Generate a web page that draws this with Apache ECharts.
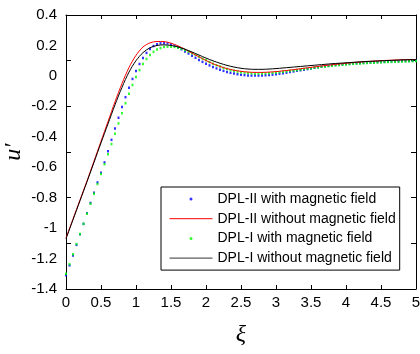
<!DOCTYPE html>
<html>
<head>
<meta charset="utf-8">
<script src="https://cdn.jsdelivr.net/npm/echarts@6/dist/echarts.min.js"></script>
<style>
  html, body { margin: 0; padding: 0; background: #fff; }
  #chart { width: 420px; height: 354px; }
</style>
</head>
<body>
<div id="chart"></div>
<script>
// x positions of the dotted (marker) series, step 0.05
const xiDots = []
for (let i = 0; i <= 100; i++) xiDots.push(+(i * 0.05).toFixed(2))
// x positions of the solid series, step 0.1
const xiLines = []
for (let i = 0; i <= 50; i++) xiLines.push(+(i * 0.1).toFixed(1))

// DPL-II with magnetic field (blue dots)
const dpl2With = [
  -1.31, -1.245, -1.18, -1.11, -1.04, -0.972, -0.903, -0.835, -0.768, -0.70,
  -0.636, -0.568, -0.495, -0.42, -0.345, -0.275, -0.205, -0.14, -0.078, -0.02,
  0.032, 0.078, 0.118, 0.151, 0.177, 0.196, 0.208, 0.214, 0.216, 0.214,
  0.208, 0.199, 0.188, 0.175, 0.161, 0.147, 0.133, 0.119, 0.105, 0.092,
  0.080, 0.069, 0.058, 0.049, 0.040, 0.033, 0.026, 0.020, 0.015, 0.011,
  0.008, 0.005, 0.003, 0.002, 0.002, 0.002, 0.003, 0.004, 0.006, 0.008,
  0.011, 0.014, 0.017, 0.021, 0.025, 0.029, 0.033, 0.037, 0.041, 0.045,
  0.049, 0.053, 0.057, 0.060, 0.063, 0.066, 0.069, 0.072, 0.074, 0.076,
  0.078, 0.080, 0.082, 0.084, 0.085, 0.087, 0.088, 0.089, 0.090, 0.091,
  0.092, 0.093, 0.094, 0.095, 0.096, 0.096, 0.097, 0.098, 0.098, 0.099,
  0.099
]

// DPL-I with magnetic field (green dots)
const dpl1With = [
  -1.30, -1.237, -1.172, -1.105, -1.038, -0.972, -0.905, -0.84, -0.775, -0.71,
  -0.645, -0.58, -0.515, -0.448, -0.38, -0.312, -0.245, -0.18, -0.118, -0.06,
  -0.008, 0.038, 0.078, 0.111, 0.138, 0.158, 0.173, 0.183, 0.189, 0.192,
  0.192, 0.190, 0.185, 0.178, 0.170, 0.160, 0.149, 0.138, 0.126, 0.114,
  0.102, 0.091, 0.080, 0.070, 0.061, 0.052, 0.045, 0.038, 0.033, 0.028,
  0.024, 0.021, 0.019, 0.017, 0.016, 0.016, 0.016, 0.017, 0.018, 0.020,
  0.022, 0.024, 0.027, 0.030, 0.033, 0.036, 0.039, 0.042, 0.045, 0.048,
  0.051, 0.054, 0.057, 0.060, 0.062, 0.065, 0.067, 0.069, 0.071, 0.073,
  0.075, 0.077, 0.079, 0.080, 0.082, 0.083, 0.085, 0.086, 0.087, 0.088,
  0.089, 0.090, 0.091, 0.092, 0.093, 0.094, 0.095, 0.095, 0.096, 0.097,
  0.097
]

// DPL-II without magnetic field (red line)
const dpl2Without = [
  -1.065, -0.94, -0.815, -0.69, -0.56, -0.43, -0.30, -0.17, -0.05, 0.055,
  0.135, 0.19, 0.217, 0.226, 0.225, 0.215, 0.197, 0.175, 0.15, 0.125,
  0.101, 0.08, 0.062, 0.048, 0.037, 0.03, 0.025, 0.023, 0.023, 0.025,
  0.028, 0.033, 0.038, 0.044, 0.05, 0.056, 0.062, 0.068, 0.073, 0.078,
  0.083, 0.087, 0.091, 0.094, 0.097, 0.1, 0.102, 0.104, 0.106, 0.107,
  0.108
]

// DPL-I without magnetic field (black line)
const dpl1Without = [
  -1.07, -0.945, -0.82, -0.695, -0.568, -0.44, -0.315, -0.19, -0.075, 0.025,
  0.1, 0.153, 0.185, 0.2, 0.204, 0.2, 0.19, 0.175, 0.157, 0.137,
  0.117, 0.099, 0.083, 0.069, 0.058, 0.05, 0.045, 0.043, 0.043, 0.045,
  0.048, 0.052, 0.056, 0.06, 0.064, 0.068, 0.072, 0.076, 0.08, 0.083,
  0.086, 0.089, 0.092, 0.095, 0.097, 0.099, 0.101, 0.103, 0.105, 0.106,
  0.108
]

const seriesNames = [
  'DPL-II with magnetic field',
  'DPL-II without magnetic field',
  'DPL-I with magnetic field',
  'DPL-I without magnetic field'
]

const pair = (xs, ys) => xs.map((x, i) => [x, ys[i]])

const chart = echarts.init(document.getElementById('chart'), null, { renderer: 'canvas' })

const tickFont = { color: '#000', fontSize: 15, fontFamily: 'Liberation Sans, Arial, sans-serif' }

const option = {
  animation: false,
  backgroundColor: '#fff',
  grid: { left: 66, right: 4, top: 15, bottom: 65, containLabel: false, outerBoundsMode: 'none' },
  legend: {
    orient: 'vertical',
    left: 161,
    top: 187,
    padding: [5, 4, 5, 8],
    itemGap: 5.7,
    itemWidth: 43,
    itemHeight: 3,
    borderColor: '#000',
    borderWidth: 1,
    backgroundColor: '#fff',
    textStyle: { color: '#000', fontSize: 14, fontFamily: 'Liberation Sans, Arial, sans-serif' },
    data: [
      { name: seriesNames[0], icon: 'circle' },
      // line entries: hide the little marker that ECharts puts in the middle
      { name: seriesNames[1], lineStyle: { width: 1 }, itemStyle: { opacity: 0 } },
      { name: seriesNames[2], icon: 'circle' },
      { name: seriesNames[3], lineStyle: { width: 1, color: '#333' }, itemStyle: { opacity: 0 } }
    ]
  },
  xAxis: [
    {
      type: 'value',
      position: 'bottom',
      min: 0,
      max: 5,
      interval: 0.5,
      name: 'ξ',
      nameLocation: 'middle',
      nameGap: 34,
      nameMoveOverlap: false,
      nameTextStyle: { color: '#000', fontSize: 24, fontStyle: 'italic', fontFamily: 'Liberation Serif, serif' },
      axisLine: { show: true, onZero: false, lineStyle: { color: '#000', width: 1 } },
      axisTick: { show: true, inside: true, length: 4, lineStyle: { color: '#000' } },
      axisLabel: { ...tickFont, margin: 6 },
      splitLine: { show: false }
    },
    {
      type: 'value',
      position: 'top',
      min: 0,
      max: 5,
      interval: 0.5,
      axisLine: { show: true, onZero: false, lineStyle: { color: '#000', width: 1 } },
      axisTick: { show: true, inside: true, length: 4, lineStyle: { color: '#000' } },
      axisLabel: { show: false },
      splitLine: { show: false }
    }
  ],
  yAxis: [
    {
      type: 'value',
      position: 'left',
      min: -1.4,
      max: 0.4,
      interval: 0.2,
      name: 'u′',
      nameLocation: 'middle',
      nameGap: 40,
      nameMoveOverlap: false,
      nameRotate: 90,
      nameTextStyle: { color: '#000', fontSize: 24, fontStyle: 'italic', fontFamily: 'Liberation Serif, serif' },
      axisLine: { show: true, onZero: false, lineStyle: { color: '#000', width: 1 } },
      axisTick: { show: false },
      axisLabel: { ...tickFont, margin: 9, formatter: v => String(+v.toFixed(1)) },
      splitLine: { show: false }
    },
    {
      // tick marks on the left frame (they sit every 0.3 in the original)
      type: 'value',
      position: 'left',
      min: 0,
      max: 1.8,
      interval: 0.3,
      axisLine: { show: false, onZero: false },
      axisTick: { show: true, inside: true, length: 5, lineStyle: { color: '#000' } },
      axisLabel: { show: false },
      splitLine: { show: false }
    },
    {
      type: 'value',
      position: 'right',
      min: 0,
      max: 1.8,
      interval: 0.3,
      axisLine: { show: true, onZero: false, lineStyle: { color: '#000', width: 1 } },
      axisTick: { show: true, inside: true, length: 5, lineStyle: { color: '#000' } },
      axisLabel: { show: false },
      splitLine: { show: false }
    }
  ],
  series: [
    {
      name: seriesNames[0],
      type: 'scatter',
      symbol: 'rect',
      symbolSize: [2, 2.5],
      itemStyle: { color: '#0000ff' },
      data: pair(xiDots, dpl2With)
    },
    {
      name: seriesNames[1],
      type: 'line',
      symbol: 'none',
      smooth: 0.3,
      lineStyle: { color: '#ff0000', width: 1 },
      itemStyle: { color: '#ff0000' },
      data: pair(xiLines, dpl2Without)
    },
    {
      name: seriesNames[2],
      type: 'scatter',
      symbol: 'rect',
      symbolSize: [2, 2.5],
      itemStyle: { color: '#00ff00' },
      data: pair(xiDots, dpl1With)
    },
    {
      name: seriesNames[3],
      type: 'line',
      symbol: 'none',
      smooth: 0.3,
      lineStyle: { color: '#000', width: 1 },
      itemStyle: { color: '#000' },
      data: pair(xiLines, dpl1Without)
    }
  ]
}

chart.setOption(option)
</script>
</body>
</html>
